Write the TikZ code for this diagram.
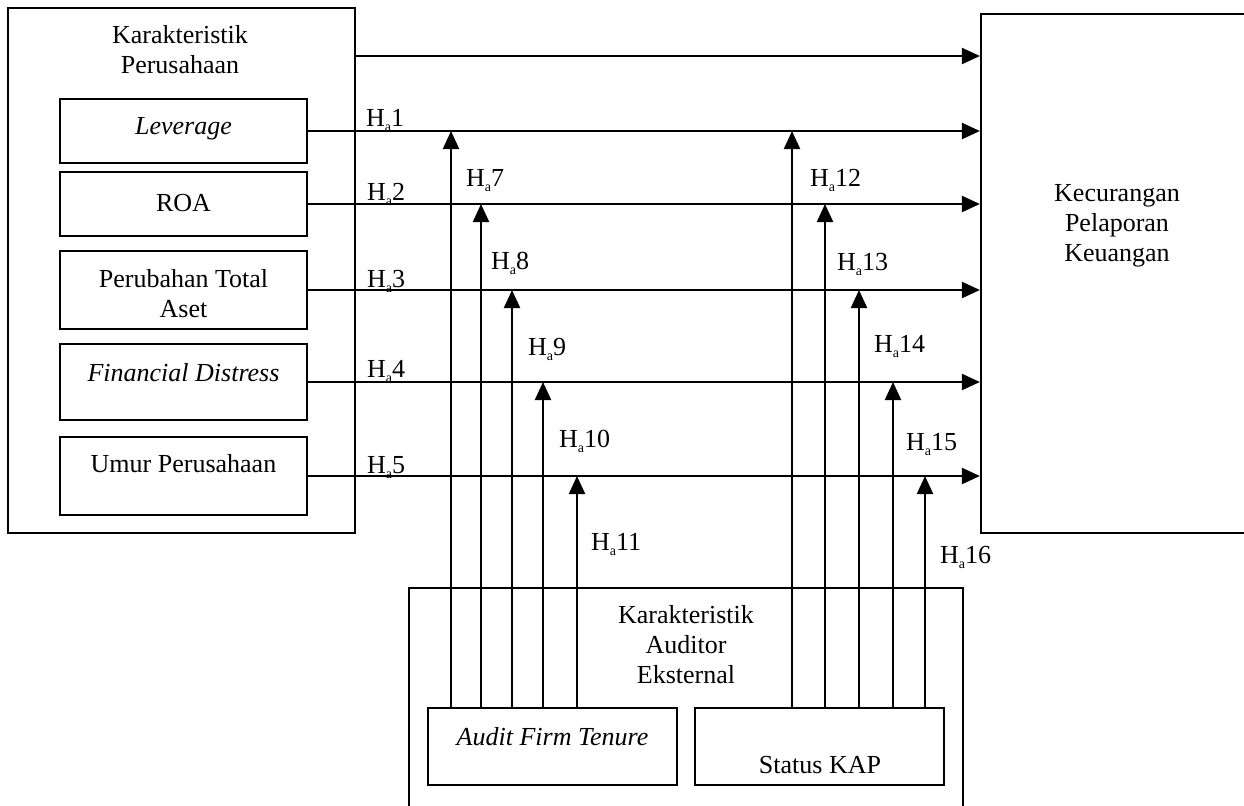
\documentclass[tikz,border=0pt]{standalone}
\usepackage{fontspec}
\setmainfont{Liberation Serif}
\usetikzlibrary{arrows.meta}
\newcommand{\hyp}[1]{H\raisebox{-2.6pt}{\fontsize{7}{8}\selectfont a}#1}
\begin{document}
\begin{tikzpicture}[x=0.5pt,y=-0.5pt, line width=1.1pt,
  box/.style={draw, line width=1.1pt, inner sep=0pt},
  txt/.style={font=\fontsize{13}{15}\selectfont, align=center, inner sep=0pt},
  lab/.style={anchor=base west, inner sep=0pt, font=\fontsize{13}{15}\selectfont},
  arr/.style={-{Triangle[length=9pt,width=8pt]}, line width=1.1pt}]
\useasboundingbox (0,0) rectangle (1244,805);
\clip (0,0) rectangle (1244,805);

% left group
\node[box, minimum width=173.5pt, minimum height=262.5pt] (kp) at (181.5,270.5) {};
\node[txt] (kpt) at (180,50) {Karakteristik\\Perusahaan};
\node[box, minimum width=123.5pt, minimum height=32pt] (lev) at (183.5,131) {};
\node[txt] (levt) at (183.5,129) {\itshape Leverage};
\node[box, minimum width=123.5pt, minimum height=32pt] (roa) at (183.5,204) {};
\node[txt] (roat) at (183.5,203) {ROA};
\node[box, minimum width=123.5pt, minimum height=39pt] (per) at (183.5,290) {};
\node[txt] (pert) at (183.5,294) {Perubahan Total\\Aset};
\node[box, minimum width=123.5pt, minimum height=38pt] (fin) at (183.5,382) {};
\node[txt] (fint) at (183.5,373) {\itshape Financial Distress};
\node[box, minimum width=123.5pt, minimum height=39pt] (umr) at (183.5,476) {};
\node[txt] (umrt) at (183.5,464) {Umur Perusahaan};

% right box
\node[box, minimum width=135pt, minimum height=259.5pt] (kec) at (1116,273.5) {};
\node[txt] (kect) at (1117,226) {Kecurangan\\Pelaporan\\Keuangan};

% bottom group
\node[box, minimum width=277pt, minimum height=121pt] (ka) at (686,709) {};
\node[txt] (kat) at (686,645) {Karakteristik\\Auditor\\Eksternal};
\node[box, minimum width=124.5pt, minimum height=38.5pt] (aft) at (552.5,746.5) {};
\node[txt] (aftt) at (552.5,737) {\itshape Audit Firm Tenure};
\node[box, minimum width=124.5pt, minimum height=38.5pt] (kap) at (819.5,746.5) {};
\node[txt] (kapt) at (820,765) {Status KAP};

% horizontal arrows
\coordinate (t0) at (355,56);
\draw[arr] (t0) -- (t0 -| kec.west);
\draw[arr] (lev.east) -- (lev.east -| kec.west);
\draw[arr] (roa.east) -- (roa.east -| kec.west);
\draw[arr] (per.east) -- (per.east -| kec.west);
\draw[arr] (fin.east) -- (fin.east -| kec.west);
\draw[arr] (umr.east) -- (umr.east -| kec.west);

% vertical arrows
\coordinate (ax1) at (451,0);
\coordinate (ax2) at (481,0);
\coordinate (ax3) at (512,0);
\coordinate (ax4) at (543,0);
\coordinate (ax5) at (577,0);
\coordinate (bx1) at (792,0);
\coordinate (bx2) at (825,0);
\coordinate (bx3) at (859,0);
\coordinate (bx4) at (893,0);
\coordinate (bx5) at (925,0);
\draw[arr] (aft.north -| ax1) -- (lev.east -| ax1);
\draw[arr] (aft.north -| ax2) -- (roa.east -| ax2);
\draw[arr] (aft.north -| ax3) -- (per.east -| ax3);
\draw[arr] (aft.north -| ax4) -- (fin.east -| ax4);
\draw[arr] (aft.north -| ax5) -- (umr.east -| ax5);
\draw[arr] (kap.north -| bx1) -- (lev.east -| bx1);
\draw[arr] (kap.north -| bx2) -- (roa.east -| bx2);
\draw[arr] (kap.north -| bx3) -- (per.east -| bx3);
\draw[arr] (kap.north -| bx4) -- (fin.east -| bx4);
\draw[arr] (kap.north -| bx5) -- (umr.east -| bx5);

% labels
\node[lab] (h1) at (365,126) {\hyp{1}};
\node[lab] (h2) at (366,200) {\hyp{2}};
\node[lab] (h3) at (366,287) {\hyp{3}};
\node[lab] (h4) at (366,377) {\hyp{4}};
\node[lab] (h5) at (366,473) {\hyp{5}};
\node[lab] (h7) at (465,186) {\hyp{7}};
\node[lab] (h8) at (490,269) {\hyp{8}};
\node[lab] (h9) at (527,355) {\hyp{9}};
\node[lab] (h10) at (558,447) {\hyp{10}};
\node[lab] (h11) at (590,550) {\hyp{11}};
\node[lab] (h12) at (809,186) {\hyp{12}};
\node[lab] (h13) at (836,270) {\hyp{13}};
\node[lab] (h14) at (873,352) {\hyp{14}};
\node[lab] (h15) at (905,450) {\hyp{15}};
\node[lab] (h16) at (939,563) {\hyp{16}};
\end{tikzpicture}
\end{document}
